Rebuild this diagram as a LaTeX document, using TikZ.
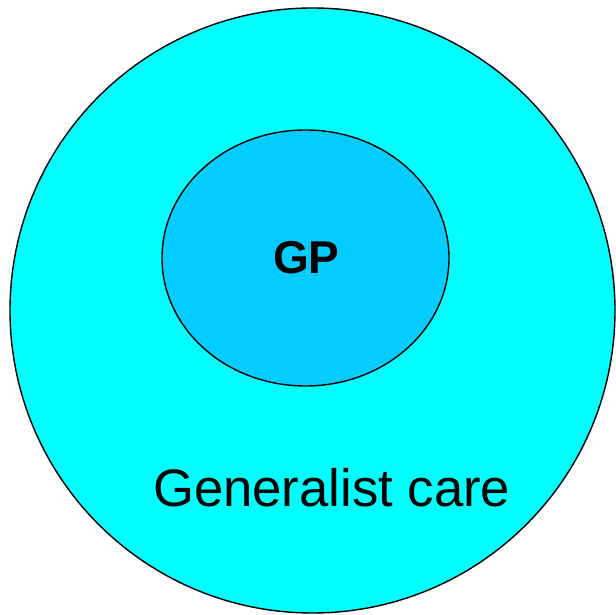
\documentclass[tikz,border=0pt]{standalone}
\usepackage{fontspec}
\setmainfont{Liberation Sans}
\usetikzlibrary{shapes.geometric}
\definecolor{outercyan}{RGB}{0,255,255}
\definecolor{innerblue}{RGB}{0,204,255}
\begin{document}
\begin{tikzpicture}[x=1pt,y=1pt,
  ring/.style={draw=black, line width=1.4pt, inner sep=0pt, outer sep=0pt},
  lbl/.style={inner sep=0pt, anchor=base, text=black}]
\useasboundingbox (0,0) rectangle (616,615);
\node[ring, circle, fill=outercyan, minimum size=605pt] (outer) at (312.5,304.5) {};
\node[ring, ellipse, fill=innerblue, minimum width=287pt, minimum height=256pt] (inner) at (305.5,357) {};
\node[lbl, font=\bfseries\fontsize{46}{50}\selectfont] (gp) at (306.3,341) {GP};
\node[lbl, font=\fontsize{52.7}{60}\selectfont] (gen) at (331.7,108) {Generalist care};
\end{tikzpicture}
\end{document}
